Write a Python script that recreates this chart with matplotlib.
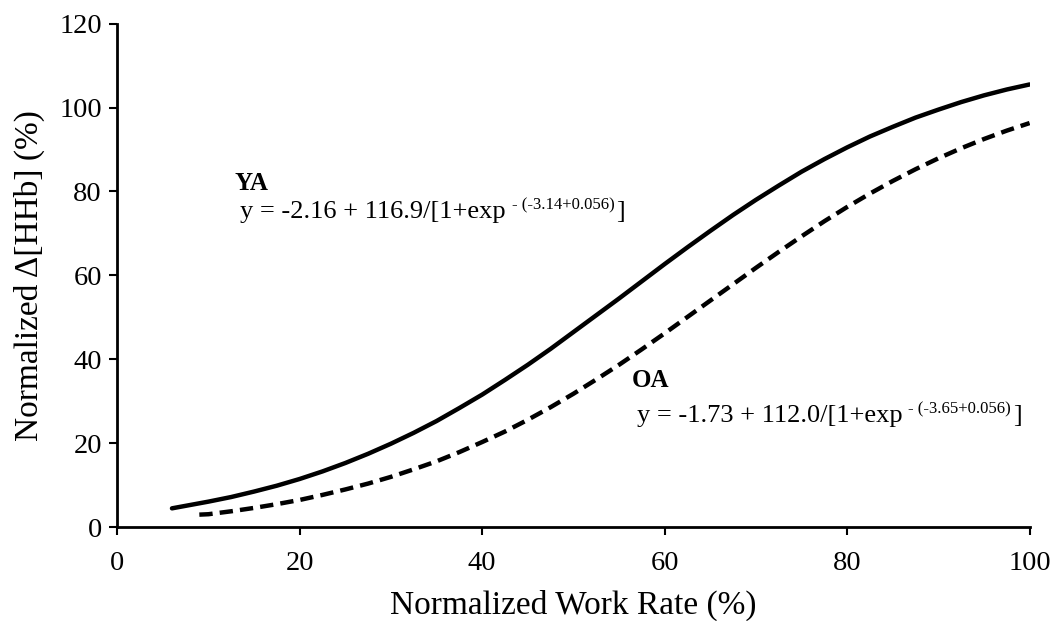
import matplotlib
matplotlib.use("Agg")
import matplotlib.pyplot as plt

plt.rcParams["font.family"] = ["Liberation Serif", "DejaVu Serif"]

# normalized work rate (%) and normalized Δ[HHb] (%) for the two groups
work_rate_ya = [6, 7.5, 10, 12.5, 15, 17.5, 20, 22.5, 25, 27.5, 30, 32.5, 35, 37.5, 40,
                42.5, 45, 47.5, 50, 52.5, 55, 57.5, 60, 62.5, 65, 67.5, 70, 72.5, 75,
                77.5, 80, 82.5, 85, 87.5, 90, 92.5, 95, 97.5, 100]
hhb_ya = [4.5, 5.1, 6.1, 7.2, 8.5, 9.9, 11.5, 13.3, 15.3, 17.5, 19.9, 22.5, 25.3, 28.4,
          31.6, 35.1, 38.7, 42.5, 46.5, 50.5, 54.5, 58.6, 62.7, 66.7, 70.6, 74.4, 78.0,
          81.4, 84.7, 87.7, 90.5, 93.1, 95.4, 97.6, 99.5, 101.3, 102.9, 104.3, 105.5]

work_rate_oa = [9, 10, 12.5, 15, 17.5, 20, 22.5, 25, 27.5, 30, 32.5, 35, 37.5, 40, 42.5,
                45, 47.5, 50, 52.5, 55, 57.5, 60, 62.5, 65, 67.5, 70, 72.5, 75, 77.5,
                80, 82.5, 85, 87.5, 90, 92.5, 95, 97.5, 100]
hhb_oa = [3.0, 3.1, 3.8, 4.6, 5.5, 6.5, 7.7, 9.0, 10.4, 12.0, 13.8, 15.7, 17.9, 20.3,
          22.8, 25.6, 28.6, 31.8, 35.2, 38.7, 42.4, 46.2, 50.1, 54.0, 57.9, 61.8, 65.6,
          69.3, 72.9, 76.3, 79.5, 82.5, 85.3, 87.9, 90.3, 92.5, 94.5, 96.3]

x_ticks = [0, 20, 40, 60, 80, 100]
y_ticks = [0, 20, 40, 60, 80, 100, 120]

fig = plt.figure(figsize=(10.56, 6.21), dpi=100)
ax = fig.add_axes([0.111, 0.151, 0.864, 0.811])

ax.plot(work_rate_ya, hhb_ya, color="black", lw=3.2, solid_capstyle="round")
ax.plot(work_rate_oa, hhb_oa, color="black", lw=3.2, dashes=(3, 1.6))

ax.set_xlim(0, 100)
ax.set_ylim(0, 120)
ax.set_xticks(x_ticks)
ax.set_yticks(y_ticks)
ax.spines["top"].set_visible(False)
ax.spines["right"].set_visible(False)
for s in ("left", "bottom"):
    ax.spines[s].set_linewidth(2)
ax.tick_params(direction="out", length=6, width=1.5, labelsize=20.5)
ax.tick_params(axis="x", pad=11)
ax.tick_params(axis="y", pad=5)

ax.set_xlabel("Normalized Work Rate (%)", fontsize=24, labelpad=10)
ax.set_ylabel("Normalized Δ[HHb] (%)", fontsize=24, labelpad=10)


def fit_label(name, x0, y0, x1, y1, head, expo):
    ax.text(x0, y0, name, fontsize=18, fontweight="bold", va="baseline")
    t = ax.text(x1, y1, head, fontsize=19, va="baseline")
    sup = ax.annotate(expo, xy=(1, 0), xycoords=t, xytext=(4, 10),
                      textcoords="offset points", fontsize=12, va="baseline")
    ax.annotate("]", xy=(1, 0), xycoords=(sup, t), xytext=(1, 0),
                textcoords="offset points", fontsize=19, va="bottom")


fit_label("YA", 12.8, 80.4, 13.5, 73.7, "y = -2.16 + 116.9/[1+exp", "- (-3.14+0.056)")
fit_label("OA", 56.4, 33.4, 57.0, 25.1, "y = -1.73 + 112.0/[1+exp", "- (-3.65+0.056)")

fig.savefig("out.png", dpi=100)
